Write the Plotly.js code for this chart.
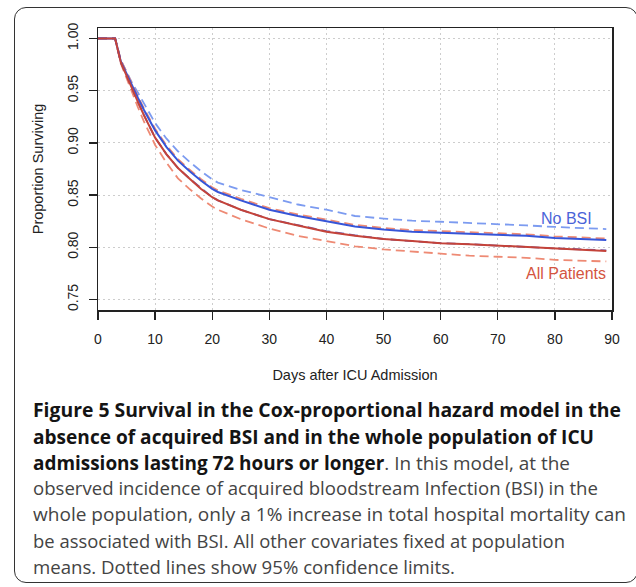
<!DOCTYPE html>
<html>
<head>
<meta charset="utf-8">
<script src="https://cdn.plot.ly/plotly-3.0.1.min.js"></script>
<style>
  html, body { margin: 0; padding: 0; background: #ffffff; width: 636px; height: 587px; overflow: hidden; }
  #frame { position: absolute; left: 14px; top: 7px; width: 624px; height: 576px; border: 1.5px solid #333; border-radius: 12px; box-sizing: border-box; }
  #chart { position: absolute; left: 0; top: 0; width: 636px; height: 587px; }
  #caption { position: absolute; left: 0; top: 0; width: 636px; height: 587px; font-family: "Open Sans", "Noto Sans", sans-serif; font-size: 19px; color: #444; }
  .cl { position: absolute; left: 33px; white-space: nowrap; transform-origin: 0 50%; line-height: 26px; height: 26px; }
  .cl b { color: #141414; font-weight: 700; }
</style>
</head>
<body>
<div id="frame"></div>
<div id="chart"></div>
<div id="caption"></div>
<script>
// ---- data ----
const days        = [0, 3, 4, 5, 6, 7, 8, 10, 12, 14, 16, 18, 20, 21, 25, 30, 35, 40, 45, 50, 55, 60, 65, 70, 75, 80, 85, 89];
const noBsi       = [1.000, 1.000, 0.978, 0.966, 0.954, 0.943, 0.932, 0.912, 0.896, 0.883, 0.873, 0.864, 0.856, 0.853, 0.845, 0.836, 0.830, 0.825, 0.820, 0.817, 0.815, 0.814, 0.813, 0.812, 0.811, 0.809, 0.808, 0.807];
const noBsiUpper  = [1.000, 1.000, 0.979, 0.968, 0.957, 0.948, 0.938, 0.919, 0.904, 0.892, 0.882, 0.873, 0.865, 0.862, 0.855, 0.848, 0.841, 0.836, 0.830, 0.8275, 0.8255, 0.8245, 0.8235, 0.8225, 0.821, 0.8195, 0.8185, 0.8175];
const noBsiLower  = [1.000, 1.000, 0.977, 0.964, 0.952, 0.939, 0.927, 0.905, 0.889, 0.876, 0.866, 0.857, 0.848, 0.845, 0.836, 0.827, 0.821, 0.8155, 0.8115, 0.808, 0.806, 0.804, 0.803, 0.8015, 0.8005, 0.799, 0.798, 0.797];
const allPatients = [1.000, 1.000, 0.977, 0.964, 0.952, 0.939, 0.927, 0.905, 0.889, 0.876, 0.866, 0.856, 0.848, 0.845, 0.836, 0.827, 0.821, 0.815, 0.811, 0.808, 0.806, 0.804, 0.803, 0.8015, 0.800, 0.7985, 0.7975, 0.7965];
const allUpper    = [1.000, 1.000, 0.9795, 0.9675, 0.9555, 0.9445, 0.9335, 0.9135, 0.8975, 0.8845, 0.8745, 0.8655, 0.8575, 0.8545, 0.8465, 0.8375, 0.8315, 0.8265, 0.8215, 0.8185, 0.8165, 0.8155, 0.8145, 0.8135, 0.8125, 0.8105, 0.8095, 0.8085];
const allLower    = [1.000, 1.000, 0.976, 0.961, 0.948, 0.934, 0.921, 0.898, 0.881, 0.866, 0.856, 0.847, 0.839, 0.836, 0.827, 0.818, 0.811, 0.806, 0.801, 0.798, 0.796, 0.7935, 0.792, 0.791, 0.790, 0.788, 0.787, 0.7865];

const xTicks = [0, 10, 20, 30, 40, 50, 60, 70, 80, 90];
const yTicks = [0.75, 0.80, 0.85, 0.90, 0.95, 1.00];
const yTickText = ["0.75", "0.80", "0.85", "0.90", "0.95", "1.00"];
const seriesLabels = ["No BSI", "All Patients"];
const labelPos = [[82, 0.828], [82, 0.7745]];

const captionLines = [
  "<b>Figure 5 Survival in the Cox-proportional hazard model in the</b>",
  "<b>absence of acquired BSI and in the whole population of ICU</b>",
  "<b>admissions lasting 72 hours or longer</b>. In this model, at the",
  "observed incidence of acquired bloodstream Infection (BSI) in the",
  "whole population, only a 1% increase in total hospital mortality can",
  "be associated with BSI. All other covariates fixed at population",
  "means. Dotted lines show 95% confidence limits."
];

// ---- styles ----
const BLUE = "#3755d8", BLUE_L = "#7c9bf0", RED = "#c4433a", RED_L = "#ee8a74";
const dashPat = "9px,5px";

const traces = [
  {x: days, y: noBsiUpper, mode: "lines", line: {color: BLUE_L, width: 1.8, dash: dashPat}},
  {x: days, y: allLower, mode: "lines", line: {color: RED_L, width: 1.8, dash: dashPat}},
  {x: days, y: allUpper, mode: "lines", line: {color: RED_L, width: 1.8, dash: dashPat}},
  {x: days, y: noBsiLower, mode: "lines", line: {color: "#6a5ab0", width: 1.8, dash: dashPat}},
  {x: days, y: noBsi, mode: "lines", line: {color: BLUE, width: 2.0}},
  {x: days, y: allPatients, mode: "lines", line: {color: RED, width: 2.0}}
];
traces.forEach(t => { t.hoverinfo = "skip"; t.showlegend = false; });

const tickFont = {family: "Liberation Sans, Arial, sans-serif", size: 14, color: "#222"};
const titleFont = {family: "Liberation Sans, Arial, sans-serif", size: 14.5, color: "#222"};
const layout = {
  width: 636, height: 587,
  margin: {l: 98, r: 24, t: 28, b: 277},
  paper_bgcolor: "rgba(0,0,0,0)", plot_bgcolor: "rgba(0,0,0,0)",
  showlegend: false,
  xaxis: {
    range: [0, 90], tickmode: "array", tickvals: xTicks,
    ticks: "outside", ticklen: 8, tickwidth: 1.3, tickcolor: "#222",
    showline: true, mirror: true, linecolor: "#222", linewidth: 1.5,
    showgrid: true, gridcolor: "#cdcdcd", gridwidth: 1, griddash: "2px,3px",
    zeroline: false, tickfont: tickFont, ticklabelstandoff: 8,
    title: {text: "Days after ICU Admission", font: titleFont, standoff: 23}
  },
  yaxis: {
    range: [0.74, 1.01], tickmode: "array", tickvals: yTicks, ticktext: yTickText, tickangle: -90,
    ticks: "outside", ticklen: 8, tickwidth: 1.3, tickcolor: "#222",
    showline: true, mirror: true, linecolor: "#222", linewidth: 1.5,
    showgrid: true, gridcolor: "#cdcdcd", gridwidth: 1, griddash: "2px,3px",
    zeroline: false, tickfont: tickFont, ticklabelstandoff: 5,
    title: {text: "Proportion Surviving", font: titleFont, standoff: 18}
  },
  annotations: [
    {x: labelPos[0][0], y: labelPos[0][1], text: seriesLabels[0], showarrow: false, xanchor: "center", yanchor: "middle",
     font: {family: "Liberation Sans, Arial, sans-serif", size: 16, color: "#4a64d8"}},
    {x: labelPos[1][0], y: labelPos[1][1], text: seriesLabels[1], showarrow: false, xanchor: "center", yanchor: "middle",
     font: {family: "Liberation Sans, Arial, sans-serif", size: 16, color: "#d4553f"}}
  ]
};

Plotly.newPlot("chart", traces, layout, {displayModeBar: false, staticPlot: true});

// ---- caption ----
const lineCenters = [410, 436.5, 462.5, 488, 514, 540.5, 566.5];
const lineRight   = [621, 594, 570, 598, 626, 565, 455];
const cap = document.getElementById("caption");
captionLines.forEach((html, i) => {
  const d = document.createElement("div");
  d.className = "cl";
  d.innerHTML = html;
  d.style.top = (lineCenters[i] - 13) + "px";
  cap.appendChild(d);
  const w = d.getBoundingClientRect().width;
  const target = lineRight[i] - 33;
  d.style.transform = "scaleX(" + (target / w).toFixed(4) + ")";
});
</script>
</body>
</html>
